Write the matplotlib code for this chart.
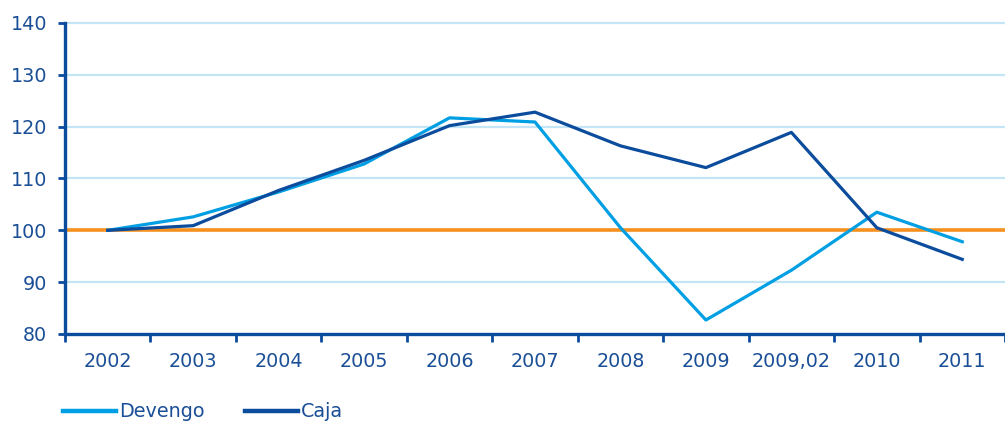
import numpy as np
import matplotlib
matplotlib.use("Agg")
import matplotlib.pyplot as plt

plt.rcParams["font.family"] = ["DejaVu Sans"]

years = ["2002", "2003", "2004", "2005", "2006", "2007", "2008", "2009", "2009,02", "2010", "2011"]
devengo = [100.0, 102.6, 107.4, 112.8, 121.7, 120.9, 100.5, 82.7, 92.3, 103.5, 97.8]
caja = [100.0, 100.9, 107.7, 113.5, 120.2, 122.8, 116.3, 112.1, 118.9, 100.5, 94.4]
base = 100

dark = "#0b4c9d"
light = "#009fe3"
orange = "#f7901e"
grid_col = "#c3e5f5"
txt = "#1a4e96"
fs = 13.8

fig = plt.figure(figsize=(10.05, 4.21), dpi=100)
ax = fig.add_axes([65 / 1005, 1 - 334 / 421, 1 - 65 / 1005, (334 - 23) / 421])

x = np.arange(len(years))
ax.set_ylim(80, 140)
ax.set_xlim(-0.5, len(years) - 0.5 - 10 / 86.4)

ax.set_yticks(np.arange(80, 141, 10))
for v in np.arange(90, 141, 10):
    ax.axhline(v, color=grid_col, lw=1.6, zorder=1, clip_on=False)

ax.axhline(base, color=orange, lw=2.6, zorder=2)
l1, = ax.plot(x, devengo, color=light, lw=2.3, label="Devengo", zorder=3)
l2, = ax.plot(x, caja, color=dark, lw=2.3, label="Caja", zorder=4)

for s in ["top", "right"]:
    ax.spines[s].set_visible(False)
for s in ["left", "bottom"]:
    ax.spines[s].set_color(dark)
    ax.spines[s].set_linewidth(2.4)
    ax.spines[s].set_zorder(5)

ax.set_xticks(x)
ax.set_xticklabels(years)
ax.set_xticks(np.arange(-0.5, len(years)), minor=True)
ax.tick_params(axis="x", which="major", length=0, pad=13, labelsize=fs, labelcolor=txt)
ax.tick_params(axis="x", which="minor", length=6, width=2, color=dark, direction="out")
ax.tick_params(axis="y", length=5, width=2, color=dark, pad=8, labelsize=fs, labelcolor=txt)

leg = fig.legend(handles=[l1, l2], loc="lower left", bbox_to_anchor=(0.046, -0.042), ncol=2,
                 frameon=False, fontsize=fs, handlelength=2.75, handletextpad=0.15,
                 columnspacing=2.1, labelcolor=txt)
for h in leg.legend_handles:
    h.set_linewidth(3.2)

fig.savefig("out.png", dpi=100)
